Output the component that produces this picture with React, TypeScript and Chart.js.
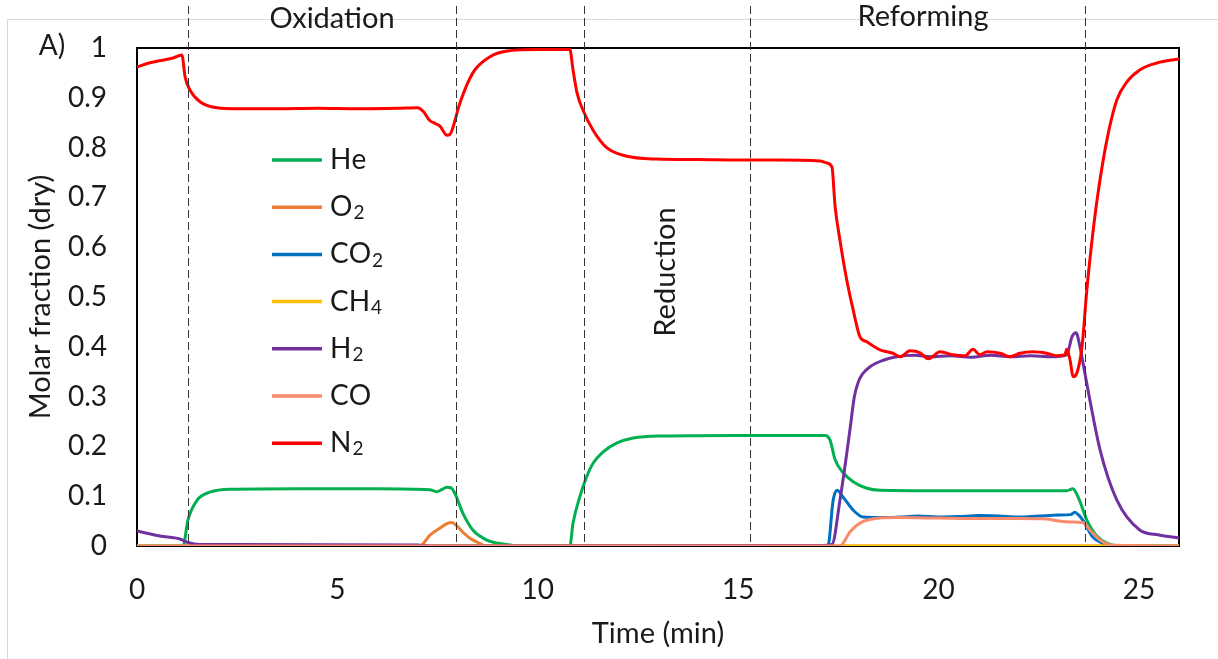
import React, { useEffect, useRef } from "react";
import { Chart, registerables } from "chart.js";
Chart.register(...registerables);

const FONT = "Lato, 'Open Sans', sans-serif";
const TEXT_COLOR = "#1a1a1a";

// ---------- data ----------
const seriesLabels = ["He", "O₂", "CO₂", "CH₄", "H₂", "CO", "N₂"];
const seriesColors = ["#00B050", "#ED7D31", "#0070C0", "#FFC000", "#7030A0", "#F98A6C", "#FF0000"];

const heTime = [0, 1.15, 1.27, 1.5, 1.82, 2.32, 4.0, 6.0, 7.3, 7.48, 7.6, 7.73, 7.83, 7.93, 8.13, 8.38, 8.73, 9.13, 9.6, 10.8, 10.88, 11.05, 11.22, 11.38, 11.63, 11.98, 12.38, 13.05, 15.0, 17.17, 17.29, 17.42, 17.62, 17.87, 18.21, 18.54, 20.0, 21.5, 23.2, 23.35, 23.5, 23.7, 23.95, 24.2, 24.6, 26];
const heValues = [0, 0, 0.052, 0.092, 0.108, 0.114, 0.115, 0.115, 0.113, 0.109, 0.113, 0.118, 0.117, 0.106, 0.066, 0.032, 0.012, 0.004, 0, 0, 0.046, 0.099, 0.139, 0.166, 0.189, 0.207, 0.217, 0.221, 0.222, 0.222, 0.213, 0.173, 0.147, 0.129, 0.116, 0.112, 0.111, 0.111, 0.111, 0.115, 0.095, 0.052, 0.02, 0.006, 0, 0];

const o2Time = [0, 7.06, 7.31, 7.56, 7.76, 7.85, 7.93, 8.13, 8.3, 8.48, 8.73, 26];
const o2Values = [0, 0, 0.022, 0.036, 0.046, 0.047, 0.044, 0.028, 0.016, 0.008, 0, 0];

const co2Time = [0, 17.24, 17.37, 17.47, 17.62, 17.87, 18.12, 18.54, 19.0, 19.5, 20.0, 20.5, 21.0, 21.5, 22.0, 22.5, 23.0, 23.3, 23.4, 23.5, 23.6, 23.85, 24.1, 24.3, 26];
const co2Values = [0, 0, 0.092, 0.112, 0.098, 0.072, 0.058, 0.057, 0.058, 0.06, 0.058, 0.059, 0.061, 0.06, 0.058, 0.06, 0.062, 0.063, 0.068, 0.062, 0.052, 0.018, 0.005, 0, 0];

const ch4Time = [0, 26];
const ch4Values = [0, 0];

const h2Time = [0, 0.57, 1.07, 1.27, 1.57, 2.5, 7.0, 7.3, 17.04, 17.34, 17.54, 17.7, 17.8, 17.9, 18.0, 18.1, 18.29, 18.62, 18.96, 19.4, 19.8, 20.3, 20.8, 21.3, 21.8, 22.3, 22.8, 23.2, 23.33, 23.43, 23.53, 23.6, 23.73, 24.03, 24.45, 25.02, 25.5, 26];
const h2Values = [0.03, 0.02, 0.014, 0.007, 0.003, 0.003, 0.002, 0, 0.001, 0.003, 0.092, 0.18, 0.24, 0.3, 0.33, 0.345, 0.36, 0.373, 0.38, 0.383, 0.38, 0.382, 0.379, 0.383, 0.38, 0.382, 0.38, 0.384, 0.42, 0.428, 0.4, 0.37, 0.313, 0.193, 0.092, 0.032, 0.022, 0.016];

const coTime = [0, 17.54, 17.79, 18.04, 18.54, 19.0, 20.0, 21.0, 22.0, 22.7, 23.0, 23.3, 23.6, 23.8, 24.03, 24.3, 26];
const coValues = [0, 0, 0.028, 0.046, 0.056, 0.057, 0.056, 0.055, 0.055, 0.054, 0.05, 0.048, 0.047, 0.03, 0.012, 0.002, 0];

const n2Time = [0, 0.3, 0.6, 0.9, 1.12, 1.2, 1.32, 1.57, 2.0, 2.5, 3.5, 4.5, 5.5, 6.5, 7.0, 7.15, 7.3, 7.45, 7.56, 7.73, 7.8, 7.86, 8.06, 8.38, 8.8, 9.23, 10.0, 10.8, 10.88, 10.98, 11.13, 11.38, 11.72, 12.2, 12.97, 14, 15, 16, 17.04, 17.22, 17.34, 17.42, 17.54, 17.71, 17.87, 18.04, 18.21, 18.54, 18.86, 19.04, 19.29, 19.54, 19.74, 20.04, 20.36, 20.66, 20.86, 21.03, 21.21, 21.53, 21.78, 22.03, 22.36, 22.7, 22.95, 23.15, 23.2, 23.28, 23.36, 23.45, 23.58, 23.7, 23.85, 23.98, 24.2, 24.45, 24.7, 25.02, 25.45, 26];
const n2Values = [0.962, 0.97, 0.975, 0.98, 0.986, 0.942, 0.916, 0.892, 0.88, 0.878, 0.878, 0.879, 0.878, 0.879, 0.88, 0.872, 0.855, 0.848, 0.843, 0.825, 0.826, 0.835, 0.89, 0.95, 0.982, 0.994, 0.997, 0.997, 0.956, 0.91, 0.875, 0.835, 0.8, 0.783, 0.777, 0.776, 0.775, 0.775, 0.773, 0.769, 0.761, 0.681, 0.614, 0.534, 0.474, 0.42, 0.41, 0.394, 0.387, 0.38, 0.392, 0.388, 0.376, 0.39, 0.384, 0.382, 0.395, 0.384, 0.39, 0.387, 0.38, 0.387, 0.39, 0.387, 0.382, 0.384, 0.395, 0.374, 0.34, 0.347, 0.4, 0.514, 0.628, 0.709, 0.815, 0.896, 0.932, 0.956, 0.97, 0.978];

const seriesTimes = [heTime, o2Time, co2Time, ch4Time, h2Time, coTime, n2Time];
const seriesValues = [heValues, o2Values, co2Values, ch4Values, h2Values, coValues, n2Values];

const phaseBoundaries = [1.27, 7.95, 11.15, 15.3, 23.65];
const phaseNames = ["Oxidation", "Reduction", "Reforming"];

const xMin = 0;
const xMax = 26;
const xStep = 5;
const yMin = 0;
const yMax = 1;
const yStep = 0.1;

const xTitle = "Time (min)";
const yTitle = "Molar fraction (dry)";
const panelLabel = "A)";

// ---------- helpers ----------
const SUBS: Record<string, string> = { "₀": "0", "₁": "1", "₂": "2", "₃": "3", "₄": "4", "₅": "5", "₆": "6", "₇": "7", "₈": "8", "₉": "9" };

function drawRich(ctx: CanvasRenderingContext2D, text: string, x: number, y: number, size: number) {
  let cx = x;
  ctx.textBaseline = "middle";
  ctx.textAlign = "left";
  for (const ch of Array.from(text)) {
    if (SUBS[ch]) {
      ctx.font = `${Math.round(size * 0.68)}px ${FONT}`;
      ctx.fillText(SUBS[ch], cx + 1, y + size * 0.22);
      cx += ctx.measureText(SUBS[ch]).width + 1;
    } else {
      ctx.font = `${size}px ${FONT}`;
      ctx.fillText(ch, cx, y);
      cx += ctx.measureText(ch).width;
    }
  }
}

const decorPlugin = {
  id: "decor",
  beforeDraw(chart: any) {
    const ctx = chart.ctx as CanvasRenderingContext2D;
    ctx.save();
    ctx.fillStyle = "#ffffff";
    ctx.fillRect(0, 0, chart.width, chart.height);
    ctx.strokeStyle = "#d9d9d9";
    ctx.lineWidth = 1;
    ctx.beginPath();
    ctx.moveTo(7.5, chart.height);
    ctx.lineTo(7.5, 19.5);
    ctx.lineTo(chart.width, 19.5);
    ctx.stroke();
    ctx.restore();
  },
  beforeDatasetsDraw(chart: any) {
    const { ctx, chartArea } = chart;
    ctx.save();
    ctx.strokeStyle = "#000000";
    ctx.lineWidth = 2;
    ctx.strokeRect(chartArea.left, chartArea.top, chartArea.right - chartArea.left, chartArea.bottom - chartArea.top);
    ctx.restore();
  },
  afterDatasetsDraw(chart: any) {
    const { ctx, chartArea, scales } = chart;
    ctx.save();
    ctx.strokeStyle = "#333333";
    ctx.lineWidth = 1;
    ctx.setLineDash([8, 4]);
    for (const t of phaseBoundaries) {
      const x = Math.round(scales.x.getPixelForValue(t)) + 0.5;
      ctx.beginPath();
      ctx.moveTo(x, 6);
      ctx.lineTo(x, chartArea.bottom);
      ctx.stroke();
    }
    ctx.restore();
  },
  afterDraw(chart: any) {
    const ctx = chart.ctx as CanvasRenderingContext2D;
    ctx.save();
    ctx.fillStyle = TEXT_COLOR;
    ctx.textBaseline = "middle";
    ctx.textAlign = "center";
    ctx.font = `28px ${FONT}`;
    ctx.fillText(panelLabel, 52, 46);
    ctx.font = `29px ${FONT}`;
    ctx.fillText(phaseNames[0], 332, 19);
    ctx.fillText(phaseNames[2], 923, 17);
    ctx.save();
    ctx.translate(666, 272);
    ctx.rotate(-Math.PI / 2);
    ctx.fillText(phaseNames[1], 0, 0);
    ctx.restore();

    // legend
    const datasets = chart.data.datasets;
    for (let i = 0; i < datasets.length; i++) {
      const y = 160 + i * 47.2;
      ctx.strokeStyle = datasets[i].borderColor;
      ctx.lineWidth = 3.5;
      ctx.beginPath();
      ctx.moveTo(272, y);
      ctx.lineTo(322, y);
      ctx.stroke();
      ctx.fillStyle = TEXT_COLOR;
      drawRich(ctx, datasets[i].label, 330, y, 28);
    }
    ctx.restore();
  },
};

export default function App() {
  const canvasRef = useRef<HTMLCanvasElement | null>(null);

  useEffect(() => {
    const canvas = canvasRef.current;
    if (!canvas) return;
    const datasets = seriesLabels.map((label, i) => ({
      label,
      data: seriesTimes[i].map((t, j) => ({ x: t, y: seriesValues[i][j] })),
      borderColor: seriesColors[i],
      backgroundColor: seriesColors[i],
      borderWidth: 3,
      pointRadius: 0,
      cubicInterpolationMode: "monotone" as const,
      fill: false,
      order: seriesLabels.length - 1 - i,
    }));

    const chart = new Chart(canvas, {
      type: "line",
      data: { datasets },
      options: {
        animation: false,
        responsive: false,
        parsing: false as any,
        layout: { padding: { top: 48, right: 39, left: 0, bottom: 0 } },
        plugins: { legend: { display: false }, tooltip: { enabled: false } },
        scales: {
          x: {
            type: "linear",
            min: xMin,
            max: xMax,
            grid: { display: false, drawTicks: false },
            border: { display: false },
            ticks: {
              stepSize: xStep,
              includeBounds: false,
              padding: 27,
              color: TEXT_COLOR,
              font: { family: FONT, size: 28 },
              maxRotation: 0,
            },
            title: {
              display: true,
              text: xTitle,
              color: TEXT_COLOR,
              font: { family: FONT, size: 29 },
              padding: { top: 0, bottom: 8 },
            },
            afterFit: (scale: any) => {
              scale.height = 113;
            },
          },
          y: {
            type: "linear",
            min: yMin,
            max: yMax,
            grid: { display: false, drawTicks: false },
            border: { display: false },
            ticks: {
              stepSize: yStep,
              includeBounds: false,
              padding: 30,
              color: TEXT_COLOR,
              font: { family: FONT, size: 28 },
              callback: (v: any) => Number(v).toFixed(1).replace(/\.0$/, ""),
            },
            title: {
              display: true,
              text: yTitle,
              color: TEXT_COLOR,
              font: { family: FONT, size: 29 },
              padding: { top: 23, bottom: 0 },
            },
            afterFit: (scale: any) => {
              scale.width = 137;
            },
          },
        },
      },
      plugins: [decorPlugin],
    });
    return () => chart.destroy();
  }, []);

  return (
    <div style={{ position: "fixed", left: 0, top: 0, width: 1218, height: 659, background: "#fff" }}>
      <canvas ref={canvasRef} width={1218} height={659} style={{ display: "block", width: 1218, height: 659 }} />
    </div>
  );
}
